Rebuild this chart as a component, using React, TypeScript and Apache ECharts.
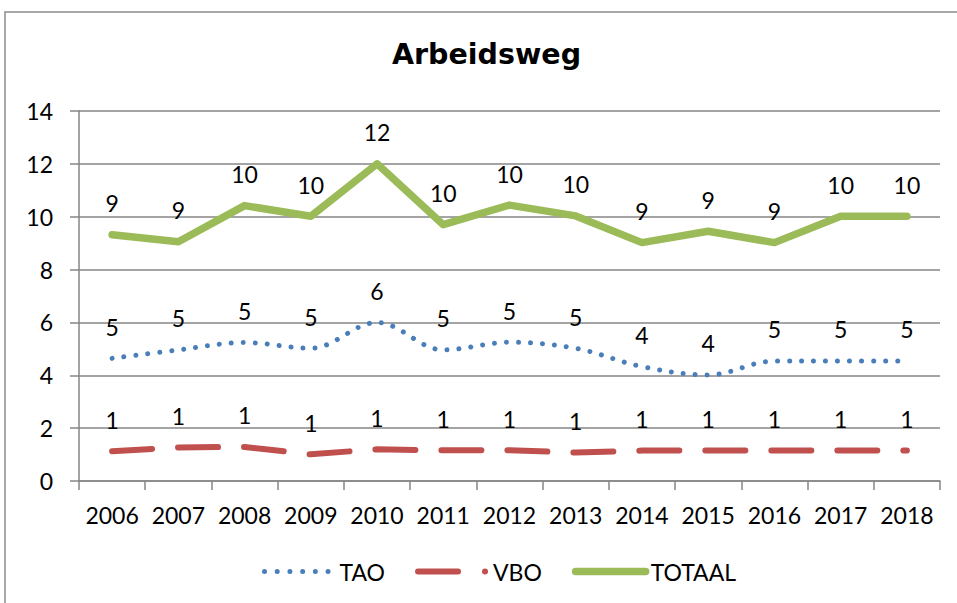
import React, { useEffect, useRef } from "react";
import * as echarts from "echarts";

const years = ["2006", "2007", "2008", "2009", "2010", "2011", "2012", "2013", "2014", "2015", "2016", "2017", "2018"];
const tao = [4.64, 4.96, 5.24, 5.02, 6.0, 4.96, 5.25, 5.02, 4.33, 4.01, 4.54, 4.54, 4.54];
const vbo = [1.13, 1.27, 1.29, 1.01, 1.2, 1.16, 1.16, 1.08, 1.15, 1.15, 1.15, 1.15, 1.15];
const totaal = [9.32, 9.05, 10.42, 10.02, 12.0, 9.7, 10.44, 10.03, 9.02, 9.45, 9.02, 10.02, 10.02];
const yTicks = { min: 0, max: 14, interval: 2 };

const FONT = "Lato, 'Noto Sans', sans-serif";
const BLUE = "#4A7EBB";
const RED = "#C0504D";
const GREEN = "#9BBB59";

export default function App() {
  const ref = useRef<HTMLDivElement>(null);
  useEffect(() => {
    if (!ref.current) return;
    const chart = echarts.init(ref.current, null, { renderer: "svg" });
    const label = {
      show: true,
      position: "top",
      distance: 20,
      fontSize: 23,
      fontFamily: FONT,
      color: "#000",
      formatter: (p: any) => String(Math.round(p.value)),
    };
    chart.setOption({
      animation: false,
      backgroundColor: "#fff",
      textStyle: { fontFamily: FONT },
      title: {
        text: "Arbeidsweg",
        left: 387,
        top: 35,
        textStyle: { fontSize: 28.5, fontWeight: "bold", color: "#000", fontFamily: "'DejaVu Sans', sans-serif" },
      },
      graphic: [
        {
          type: "rect",
          shape: { x: 5, y: 12, width: 1000, height: 700 },
          style: { fill: "none", stroke: "#8c8c8c", lineWidth: 1.5 },
          silent: true,
        },
      ],
      grid: { left: 79, right: 17, top: 111, bottom: 122, containLabel: false },
      legend: {
        left: 257,
        top: 555,
        itemWidth: 70,
        itemHeight: 14,
        itemGap: 30,
        textStyle: { fontSize: 23, color: "#000", fontFamily: FONT },
        itemStyle: { opacity: 0 },
        lineStyle: { width: "inherit" },
        data: [
          { name: "TAO", lineStyle: { width: 5, type: [0.01, 12.7], cap: "round", color: BLUE } },
          { name: "VBO", lineStyle: { width: 6, type: [40, 27, 0.01, 100], cap: "round", color: RED } },
          { name: "TOTAAL", lineStyle: { width: 7.5, type: "solid", cap: "round", color: GREEN } },
        ],
      },
      xAxis: {
        type: "category",
        data: years,
        boundaryGap: true,
        axisLine: { lineStyle: { color: "#868686", width: 1.5 } },
        axisTick: { show: true, length: 9, lineStyle: { color: "#868686", width: 1.5 } },
        axisLabel: { fontSize: 23, color: "#000", margin: 22, interval: 0, fontFamily: FONT },
      },
      yAxis: {
        type: "value",
        min: yTicks.min,
        max: yTicks.max,
        interval: yTicks.interval,
        axisLine: { show: true, lineStyle: { color: "#868686", width: 1.5 } },
        axisTick: { show: true, length: 9, lineStyle: { color: "#868686", width: 1.5 } },
        axisLabel: { fontSize: 23, color: "#000", margin: 26, fontFamily: FONT },
        splitLine: { lineStyle: { color: "#868686", width: 1.5 } },
      },
      series: [
        {
          name: "TAO",
          type: "line",
          data: tao,
          smooth: 0.35,
          symbol: "circle",
          symbolSize: 0.1,
          itemStyle: { color: BLUE },
          lineStyle: { color: BLUE, width: 5, type: [0.01, 12], cap: "round" },
          label,
        },
        {
          name: "VBO",
          type: "line",
          data: vbo,
          symbol: "circle",
          symbolSize: 0.1,
          itemStyle: { color: RED },
          lineStyle: { color: RED, width: 6, type: [40, 26], cap: "round" },
          label,
        },
        {
          name: "TOTAAL",
          type: "line",
          data: totaal,
          symbol: "circle",
          symbolSize: 0.1,
          itemStyle: { color: GREEN },
          lineStyle: { color: GREEN, width: 7.5, cap: "round", join: "round" },
          label,
        },
      ],
    });
    return () => chart.dispose();
  }, []);
  return (
    <div
      ref={ref}
      style={{ position: "fixed", left: 0, top: 0, width: 957, height: 603 }}
    />
  );
}
